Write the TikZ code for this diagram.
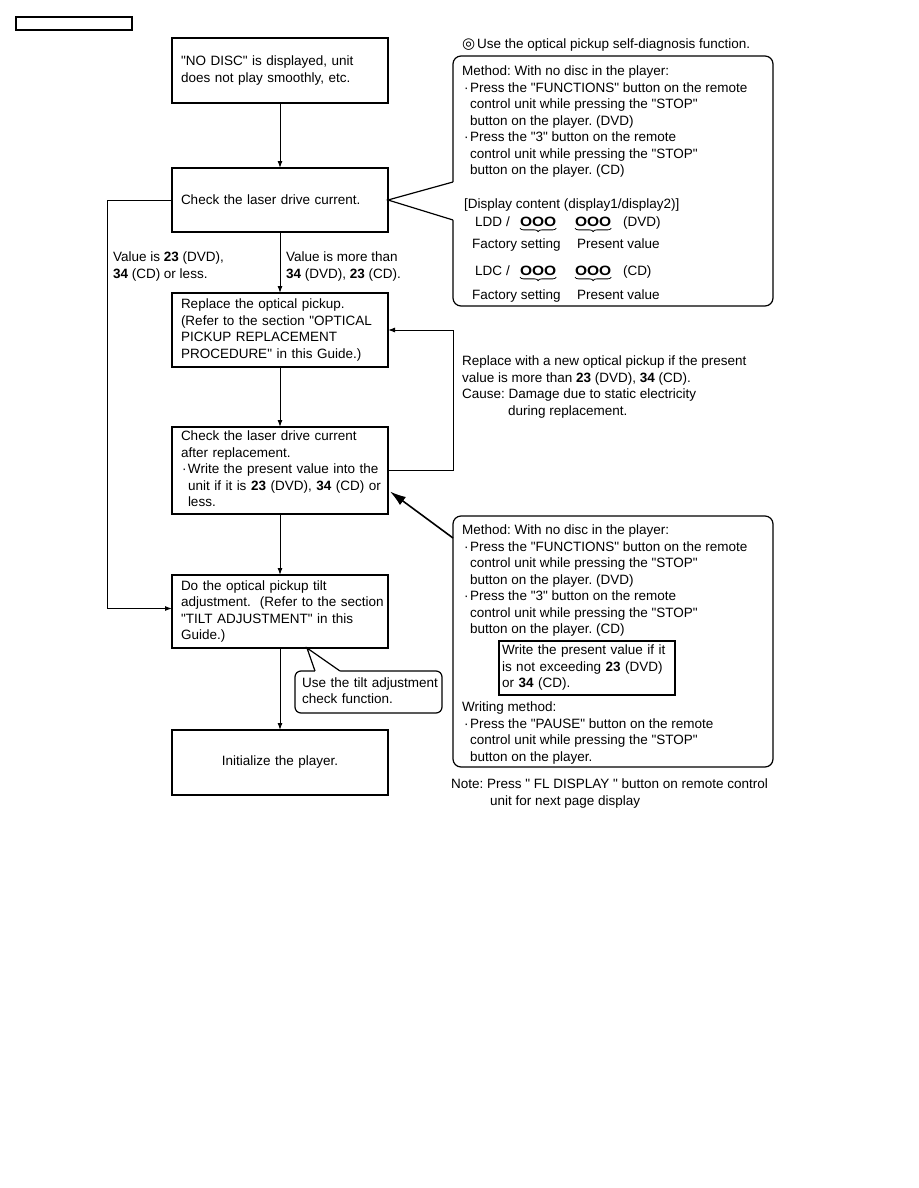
\documentclass[tikz,border=0pt]{standalone}
\usepackage{fontspec}
\setmainfont{Liberation Sans}
\newfontfamily\symfont{DejaVu Sans}
\usetikzlibrary{arrows.meta, positioning, decorations.pathreplacing}

\newcommand{\dq}{\textquotedbl}
\newcommand{\bulitem}{\hspace*{2pt}\textperiodcentered\hspace{1.5pt}}
\newcommand{\contind}{\hspace*{8pt}}
\newcommand{\boxlines}[1]{\begin{tabular}{@{}l@{}}#1\end{tabular}}
\frenchspacing

\begin{document}
\begin{tikzpicture}[
    x=1pt, y=-1pt,
    every node/.style={font=\fontsize{13.5}{16.5}\selectfont, outer sep=0pt},
    flowbox/.style={draw, line width=1.2pt, text width=198pt, inner xsep=9pt, inner ysep=0pt, align=left},
    callout/.style={draw, line width=1.2pt, rounded corners=8pt, fill=white},
    plain/.style={inner sep=0pt, align=left, anchor=north west},
    rowtext/.style={inner sep=0pt, anchor=base west},
    digits/.style={inner sep=0pt, anchor=base west, font=\fontsize{13.5}{16.5}\selectfont\bfseries},
    digitbrace/.style={decorate, decoration={brace, amplitude=3.5pt}, line width=0.8pt},
    arrow/.style={-{Latex[length=7pt,width=5pt]}, line width=1pt},
    bigarrow/.style={-{Latex[length=16pt,width=10pt]}, line width=1.6pt}
]
\useasboundingbox (0,0) rectangle (918,1188);
\fill[white] (0,0) rectangle (918,1188);

% page tag
\node[draw, line width=1.2pt, minimum width=116pt, minimum height=13pt, inner sep=0pt, anchor=north west] (pagetag) at (16,17) {};

% Main flow
\node[flowbox, minimum height=65pt] (nodisc) at (280,70.5) {\boxlines{\dq{}NO DISC\dq{} is displayed, unit\\does not play smoothly, etc.}};
\node[flowbox, minimum height=64pt, below=65pt of nodisc] (check) {Check the laser drive current.};
\node[flowbox, minimum height=74pt, below=61pt of check] (replace) {\boxlines{Replace the optical pickup.\\(Refer to the section \dq{}OPTICAL\\PICKUP REPLACEMENT\\PROCEDURE\dq{} in this Guide.)}};
\node[flowbox, minimum height=87pt, below=60pt of replace] (recheck) {\boxlines{Check the laser drive current\\after replacement.\\\hspace*{1pt}\textperiodcentered\hspace{1.5pt}Write the present value into the\\\hspace*{7pt}unit if it is \textbf{23} (DVD), \textbf{34} (CD) or\\\hspace*{7pt}less.}};
\node[flowbox, minimum height=73pt, below=61pt of recheck] (tilt) {\boxlines{Do the optical pickup tilt\\adjustment.\ \ (Refer to the section\\\dq{}TILT ADJUSTMENT\dq{} in this\\Guide.)}};
\node[flowbox, minimum height=65pt, below=82pt of tilt, align=center] (init) {Initialize the player.};

% Branch labels
\node[plain] (lowlbl) at (113,252) {Value is \textbf{23} (DVD),\\\textbf{34} (CD) or less.};
\node[plain] (highlbl) at (286,252) {Value is more than\\\textbf{34} (DVD), \textbf{23} (CD).};

% Connectors
\draw[arrow] (nodisc) -- (check);
\draw[arrow] (check) -- (replace);
\draw[arrow] (replace) -- (recheck);
\draw[arrow] (recheck) -- (tilt);
\draw[arrow] (tilt) -- (init);
\draw[arrow] (check.west) -- ++(-65,0) |- ([yshift=3pt]tilt.west);
\draw[arrow] (recheck.east) -- ++(65,0) |- (replace.east);

% Self-diagnosis callout
\node[anchor=base west, inner sep=0pt] (diaghead) at (462,49) {{\symfont\fontsize{15}{16}\selectfont ◎}\hspace{2pt}Use the optical pickup self-diagnosis function.};
\node[callout, minimum width=320pt, minimum height=250pt, anchor=north west] (diag) at (453,56) {};
\coordinate (diagA) at (453,182);
\coordinate (diagB) at (453,220);
\fill[white] (check.east) -- (diagA) -- ++(3,0) -- ([xshift=3pt]diagB) -- (diagB) -- cycle;
\draw[line width=1.2pt] (diagA) -- (check.east) -- (diagB);
\node[plain] (diagtxt) at (462,66) {Method: With no disc in the player:\\\bulitem Press the \dq{}FUNCTIONS\dq{} button on the remote\\\contind control unit while pressing the \dq{}STOP\dq{}\\\contind button on the player. (DVD)\\\bulitem Press the \dq{}3\dq{} button on the remote\\\contind control unit while pressing the \dq{}STOP\dq{}\\\contind button on the player. (CD)};
\node[plain] (disphead) at (464,199) {[Display content (display1/display2)]};

% LDD row
\node[rowtext] (lddlbl) at (475,226) {LDD\hspace{4pt}/};
\node[digits] (lddset) at (520,226) {\scalebox{1.15}[1]{OOO}};
\node[digits] (lddnow) at (575,226) {\scalebox{1.15}[1]{OOO}};
\node[rowtext] (lddunit) at (623,226) {(DVD)};
\draw[digitbrace] ([yshift=-2pt]lddset.south east) -- ([yshift=-2pt]lddset.south west);
\draw[digitbrace] ([yshift=-2pt]lddnow.south east) -- ([yshift=-2pt]lddnow.south west);
\node[rowtext] (lddfac) at (472,248) {Factory setting};
\node[rowtext] (lddpres) at (577,248) {Present value};

% LDC row
\node[rowtext] (ldclbl) at (475,275) {LDC\hspace{4pt}/};
\node[digits] (ldcset) at (520,275) {\scalebox{1.15}[1]{OOO}};
\node[digits] (ldcnow) at (575,275) {\scalebox{1.15}[1]{OOO}};
\node[rowtext] (ldcunit) at (623,275) {(CD)};
\draw[digitbrace] ([yshift=-2pt]ldcset.south east) -- ([yshift=-2pt]ldcset.south west);
\draw[digitbrace] ([yshift=-2pt]ldcnow.south east) -- ([yshift=-2pt]ldcnow.south west);
\node[rowtext] (ldcfac) at (472,299) {Factory setting};
\node[rowtext] (ldcpres) at (577,299) {Present value};

% Replacement note
\node[plain] (replnote) at (462,356) {Replace with a new optical pickup if the present\\value is more than \textbf{23} (DVD), \textbf{34} (CD).\\Cause: Damage due to static electricity\\\hspace*{46pt}during replacement.};

% Writing callout
\node[callout, minimum width=320pt, minimum height=251pt, anchor=north west] (write) at (453,516) {};
\node[plain] (writetxt) at (462,525) {Method: With no disc in the player:\\\bulitem Press the \dq{}FUNCTIONS\dq{} button on the remote\\\contind control unit while pressing the \dq{}STOP\dq{}\\\contind button on the player. (DVD)\\\bulitem Press the \dq{}3\dq{} button on the remote\\\contind control unit while pressing the \dq{}STOP\dq{}\\\contind button on the player. (CD)};
\node[draw, line width=1.2pt, anchor=north west, minimum width=176pt, minimum height=54pt, text width=170pt, inner xsep=3pt, inner ysep=0pt, align=left] (writeval) at (499,641) {\boxlines{Write the present value if it\\is not exceeding \textbf{23} (DVD)\\or \textbf{34} (CD).}};
\node[plain] (writemeth) at (462,702) {Writing method:\\\bulitem Press the \dq{}PAUSE\dq{} button on the remote\\\contind control unit while pressing the \dq{}STOP\dq{}\\\contind button on the player.};
\coordinate (wrA) at (453,538);
\draw[bigarrow] (wrA) -- ([xshift=2pt,yshift=-21pt]recheck.east);

% Tilt callout
\node[callout, rounded corners=6pt, anchor=north west, minimum width=147pt, minimum height=42pt, text width=133pt, inner xsep=7pt, inner ysep=0pt, align=left] (tiltnote) at (295,671) {\boxlines{Use the tilt adjustment\\check function.}};
\coordinate (tiltA) at (315,671);
\coordinate (tiltB) at (340,671);
\fill[white] ([xshift=27pt]tilt.south) -- (tiltA) -- ++(0,3) -- ([yshift=-3pt]tiltB) -- (tiltB) -- cycle;
\draw[line width=1.2pt] (tiltA) -- ([xshift=27pt]tilt.south) -- (tiltB);

% Footnote
\node[plain] (pagenote) at (451,779) {Note: Press \dq{} FL DISPLAY \dq{} button on remote control\\\hspace*{39pt}unit for next page display};

\end{tikzpicture}
\end{document}
